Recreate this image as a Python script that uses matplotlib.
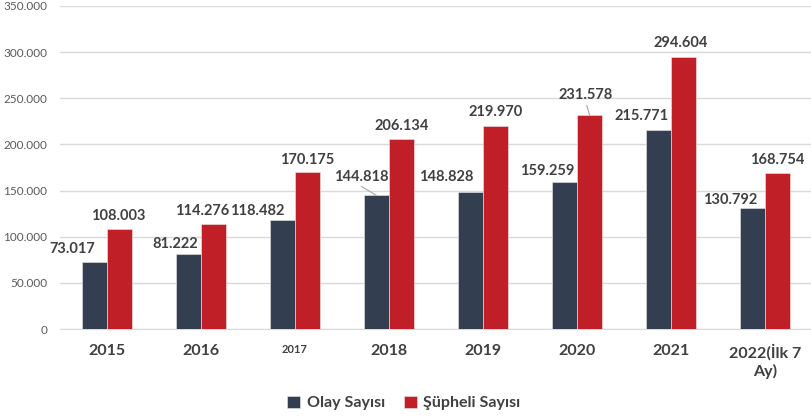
import matplotlib
matplotlib.use("Agg")
import matplotlib.pyplot as plt
import numpy as np

categories = ["2015", "2016", "2017", "2018", "2019", "2020", "2021", "2022(İlk 7\nAy)"]
olay = [73017, 81222, 118482, 144818, 148828, 159259, 215771, 130792]
supheli = [108003, 114276, 170175, 206134, 219970, 231578, 294604, 168754]
series_names = ["Olay Sayısı", "Şüpheli Sayısı"]
yticks = [0, 50000, 100000, 150000, 200000, 250000, 300000, 350000]

def fmt(v):
    return f"{v:,}".replace(",", ".")

# label offsets (pixels) relative to bar top-center (x, y up)
olay_off = [(-22, 13), (-13, 10), (-25, 9), (-15, 18), (-24, 15), (-17, 11), (-17, 14), (-22, 8)]
sup_off = [(-1, 13), (-12, 13), (-1, 12), (0, 13), (0, 14), (-4, 20), (-3, 14), (0, 13)]

plt.rcParams['font.family'] = ['Lato', 'DejaVu Sans']
dark = "#333F50"
red = "#C01F28"
txt = "#404040"

fig = plt.figure(figsize=(8.12, 4.19), dpi=100)
ax = fig.add_axes([60/812, 90/419, 752/812, 323/419])

x = np.arange(len(categories))
w = 0.27
b1 = ax.bar(x - w/2, olay, w, color=dark, label=series_names[0], zorder=3, edgecolor="#e8e8e8", linewidth=0.4)
b2 = ax.bar(x + w/2, supheli, w, color=red, label=series_names[1], zorder=3, edgecolor="#e8e8e8", linewidth=0.4)

lead = dict(arrowstyle="-", color="#a6a6a6", lw=0.8, shrinkA=0, shrinkB=0)
for i, v in enumerate(olay):
    dx, dy = olay_off[i]
    ax.annotate(fmt(v), xy=(x[i] - w/2, v), xytext=(dx, dy), textcoords="offset pixels",
                ha="center", va="center", fontsize=10.5, fontweight="bold", color=txt, zorder=4)
    if i == 3:
        ax.annotate("", xy=(x[i] - w/2, v), xytext=(-15, 9), textcoords="offset pixels",
                    arrowprops=lead, zorder=4)
for i, v in enumerate(supheli):
    dx, dy = sup_off[i]
    ax.annotate(fmt(v), xy=(x[i] + w/2, v), xytext=(dx, dy), textcoords="offset pixels",
                ha="center", va="center", fontsize=10.5, fontweight="bold", color=txt, zorder=4)
    if i == 5:
        ax.annotate("", xy=(x[i] + w/2, v), xytext=(-3, 10), textcoords="offset pixels",
                    arrowprops=lead, zorder=4)

ax.set_xlim(-0.5, len(categories) - 0.5)
ax.set_ylim(0, 350000)
ax.set_yticks(yticks)
ax.set_yticklabels([fmt(t) for t in yticks], fontsize=8.5, color="#595959")
ax.yaxis.grid(True, color="#d9d9d9", linewidth=1, zorder=0)
ax.set_axisbelow(True)
for s in ["top", "right", "left"]:
    ax.spines[s].set_visible(False)
ax.spines["bottom"].set_color("#d9d9d9")
ax.tick_params(axis="y", length=0, pad=9)
ax.tick_params(axis="x", length=0, pad=11)
ax.set_xticks(x)
ax.set_xticklabels(categories, fontsize=11.5, fontweight="bold", color=txt, linespacing=1.25)
for i, lab in enumerate(ax.get_xticklabels()):
    if i == 2:
        lab.set_fontsize(8)
    lab.set_va("top")

leg = fig.legend(handles=[b1, b2], labels=series_names, loc="center", bbox_to_anchor=(404/812, 1 - 403/419),
                 ncol=2, frameon=False, handlelength=0.8, handleheight=0.8, handletextpad=0.4,
                 columnspacing=1.2, prop=dict(family=['Lato', 'DejaVu Sans'], size=11.5, weight="bold"))
for t in leg.get_texts():
    t.set_color(txt)

fig.savefig("out.png", dpi=100)
